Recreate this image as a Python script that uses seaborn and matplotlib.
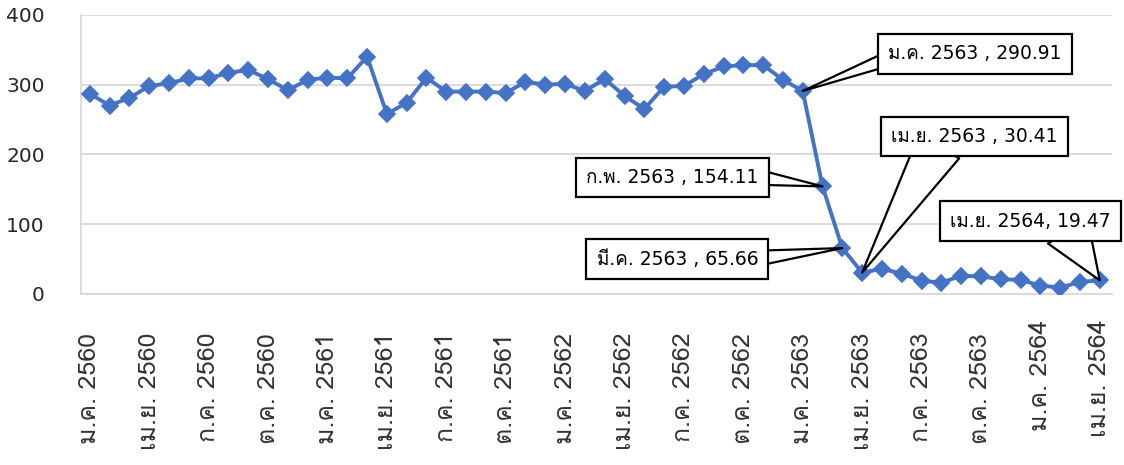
import numpy as np
import pandas as pd
import matplotlib
matplotlib.use('Agg')
import matplotlib.pyplot as plt
import seaborn as sns
from matplotlib import font_manager, ft2font

# monthly values, ม.ค. 2560 - เม.ย. 2564
months = ['ม.ค.', 'ก.พ.', 'มี.ค.', 'เม.ย.', 'พ.ค.', 'มิ.ย.',
          'ก.ค.', 'ส.ค.', 'ก.ย.', 'ต.ค.', 'พ.ย.', 'ธ.ค.']
years = [2560, 2561, 2562, 2563, 2564]
values = [287, 270, 281, 298, 302, 309, 309, 317, 321, 308, 292, 307,
          310, 309, 340, 258, 274, 310, 290, 290, 290, 288, 304, 300,
          301, 291, 308, 284, 265, 297, 298, 315, 326, 328, 328, 307,
          290.91, 154.11, 65.66, 30.41, 36, 29, 19, 16, 26, 25, 21, 20,
          12, 9, 17, 19.47]
periods = [f'{m} {y}' for y in years for m in months][:len(values)]

# callouts: (period, text, offset in pixels, where the pointer leaves the box, pointer width)
callouts = [
    ('ม.ค. 2563', 'ม.ค. 2563 , 290.91', (172, 37), (0, 0.24), 0.75),
    ('ก.พ. 2563', 'ก.พ. 2563 , 154.11', (-150, 9), (1, 0.5), 0.8),
    ('มี.ค. 2563', 'มี.ค. 2563 , 65.66', (-165, -11), (1, 0.55), 0.8),
    ('เม.ย. 2563', 'เม.ย. 2563 , 30.41', (112, 136), (0.29, 0), 2.5),
    ('เม.ย. 2564', 'เม.ย. 2564, 19.47', (-69, 59), (0.73, 0), 2.5),
]

df = pd.DataFrame({'period': periods, 'value': values})
df['idx'] = np.arange(len(df))

sns.set_theme(style='white')

# look for an installed font that has Thai glyphs
thai_fonts = []
for f in font_manager.fontManager.ttflist:
    try:
        if 0x0E01 in ft2font.FT2Font(f.fname).get_charmap() and f.name not in thai_fonts:
            thai_fonts.append(f.name)
    except Exception:
        pass
thai = thai_fonts[:1]
plt.rcParams['font.family'] = thai + ['DejaVu Sans']
wide = ['DejaVu Sans'] + thai

fig, ax = plt.subplots(figsize=(11.24, 4.65), dpi=100)
fig.subplots_adjust(left=0.072, right=0.989, bottom=0.368, top=0.968)

sns.lineplot(data=df, x='idx', y='value', color='#4472C4', linewidth=2.8,
             marker='D', markersize=7.8, markeredgewidth=1.2,
             markeredgecolor='#4472C4', ax=ax, zorder=3)

ax.set_ylim(0, 400)
ax.set_yticks([0, 100, 200, 300, 400])
ax.set_yticklabels(['0', '100', '200', '300', '400'], family=wide)
ax.set_xlim(-0.45, 51.6)
ticks = list(range(0, len(values), 3))
ax.set_xticks(ticks)
ax.set_xticklabels([periods[i] for i in ticks], rotation=90)
ax.tick_params(axis='x', length=0, pad=28, labelsize=18, labelcolor='#333333')
ax.tick_params(axis='y', length=0, pad=26, labelsize=14.5, labelcolor='#262626')
ax.set_xlabel('')
ax.set_ylabel('')

ax.grid(axis='y', color='#D9D9D9', linewidth=1.3)
for side in ['top', 'right']:
    ax.spines[side].set_visible(False)
for side in ['left', 'bottom']:
    ax.spines[side].set_color('#D9D9D9')
    ax.spines[side].set_linewidth(1.3)

# last two labels sit a bit higher in the original
for lab in ax.get_xticklabels()[-2:]:
    lab.set_y(13 / 279)

for period, text, off, rel, tw in callouts:
    i = periods.index(period)
    ax.annotate(text, xy=(i, values[i]), xytext=off, textcoords='offset pixels',
                ha='center', va='center', fontsize=13.5, family=wide,
                color='black', zorder=5,
                bbox=dict(boxstyle='square,pad=0.55', fc='white', ec='black', lw=1.6),
                arrowprops=dict(arrowstyle=f'wedge,tail_width={tw}', fc='white',
                                ec='black', lw=1.6, relpos=rel, patchA=None,
                                shrinkA=0, shrinkB=0))

plt.savefig('out.png', dpi=100)
